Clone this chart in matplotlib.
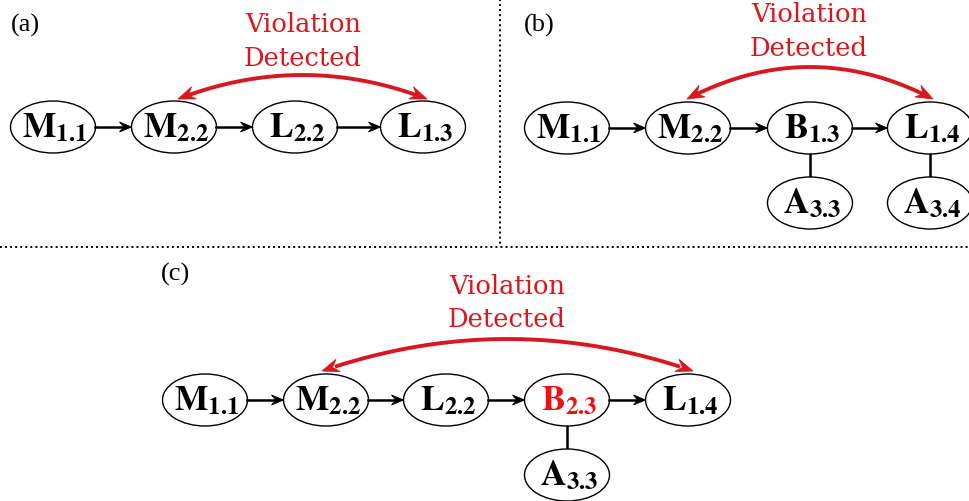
import numpy as np
import matplotlib

matplotlib.use("Agg")
import matplotlib.pyplot as plt
from matplotlib.patches import Ellipse, Polygon

plt.rcParams["mathtext.fontset"] = "stix"

# --- diagram content ---
a_nodes = [("M", "1.1"), ("M", "2.2"), ("L", "2.2"), ("L", "1.3")]
b_nodes = [("M", "1.1"), ("M", "2.2"), ("B", "1.3"), ("L", "1.4")]
b_children = [("A", "3.3"), ("A", "3.4")]      # hang under B1.3 and L1.4
b_child_of = [2, 3]
c_nodes = [("M", "1.1"), ("M", "2.2"), ("L", "2.2"), ("B", "2.3"), ("L", "1.4")]
c_children = [("A", "3.3")]                    # hangs under B2.3
c_child_of = [3]
c_flagged = [3]                                # B2.3 drawn in red
a_violation = (1, 3)
b_violation = (1, 3)
c_violation = (1, 4)
panel_labels = ["(a)", "(b)", "(c)"]
note = ["Violation", "Detected"]

# --- layout (pixels, origin top-left) ---
W, H = 969, 502
NW, NH = 85, 52
CHILD_DY = 75
RED = "#d7191f"
FLAG = "#f01010"
a_xs, a_y = [53, 174, 295, 423], 128
b_xs, b_y = [567, 688, 810, 930], 129
c_xs, c_y = [205, 326, 446, 567, 688], 401

fig = plt.figure(figsize=(W / 100, H / 100), dpi=100)
ax = fig.add_axes([0, 0, 1, 1])
ax.set_xlim(0, W)
ax.set_ylim(H, 0)
ax.axis("off")


def head(tip, d, L, w, color):
    d = np.asarray(d, float)
    d = d / np.hypot(*d)
    n = np.array([-d[1], d[0]])
    t = np.asarray(tip, float)
    pts = [t, t - L * d + w / 2 * n, t - 0.65 * L * d, t - L * d - w / 2 * n]
    ax.add_patch(Polygon(pts, closed=True, fc=color, ec=color, lw=0.6, zorder=5))


def node(x, y, letter, sub, color="black"):
    ax.add_patch(Ellipse((x, y), NW, NH, fc="white", ec="black", lw=1.0, zorder=2))
    ax.text(x + 2, y + 9, rf"$\mathbf{{{letter}}}_{{\mathbf{{{sub}}}}}$",
            fontsize=25.5, color=color, ha="center", va="baseline", zorder=3)


def chain(xs, y, nodes, flagged=()):
    for i, (l, s) in enumerate(nodes):
        node(xs[i], y, l, s, FLAG if i in flagged else "black")
    for x0, x1 in zip(xs[:-1], xs[1:]):
        a, b = x0 + NW / 2, x1 - NW / 2
        ax.plot([a, b - 8], [y, y], color="black", lw=1.8, zorder=4)
        head((b, y), (1, 0), 12, 10, "black")


def children(xs, y, kids, parent):
    for (l, s), p in zip(kids, parent):
        x = xs[p]
        ax.plot([x, x], [y + NH / 2, y + CHILD_DY - NH / 2], color="black", lw=1.8, zorder=1)
        node(x, y + CHILD_DY, l, s)


def violation(x0, x1, y, rise, text_x, text_y):
    p0, p2 = np.array([x0, y]), np.array([x1, y])
    c = np.array([(x0 + x1) / 2, y - 2 * rise])
    t = np.linspace(0.035, 0.965, 200)[:, None]
    pts = (1 - t) ** 2 * p0 + 2 * (1 - t) * t * c + t ** 2 * p2
    ax.plot(pts[:, 0], pts[:, 1], color=RED, lw=2.8, solid_capstyle="butt", zorder=4)
    head(p0, p0 - c, 17, 13, RED)
    head(p2, p2 - c, 17, 13, RED)
    for k, line in enumerate(note):
        ax.text(text_x, text_y + 33 * k, line, color=RED, fontsize=18.5,
                family="DejaVu Serif", ha="center", va="center")


# (a)
chain(a_xs, a_y, a_nodes)
violation(a_xs[a_violation[0]] + 4, a_xs[a_violation[1]] + 4, a_y - 28, 24, 303, 25)
# (b)
chain(b_xs, b_y, b_nodes)
children(b_xs, b_y, b_children, b_child_of)
violation(b_xs[b_violation[0]] - 1, b_xs[b_violation[1]] + 3, b_y - 29, 32, 809, 15)
# (c)
chain(c_xs, c_y, c_nodes, c_flagged)
children(c_xs, c_y, c_children, c_child_of)
violation(c_xs[c_violation[0]] - 4, c_xs[c_violation[1]] + 5, c_y - 29, 32, 507, 287)

for lab, (x, y) in zip(panel_labels, [(25, 25), (539, 25), (176, 274)]):
    ax.text(x, y, lab, fontsize=19, family="Liberation Serif", ha="center", va="center")

# separators
ax.plot([500, 500], [0, 248], color="black", lw=1.4, ls=(0, (1, 1.6)))
ax.plot([0, W], [248, 248], color="black", lw=1.4, ls=(0, (1, 1.6)))

fig.savefig("out.png", dpi=100)
